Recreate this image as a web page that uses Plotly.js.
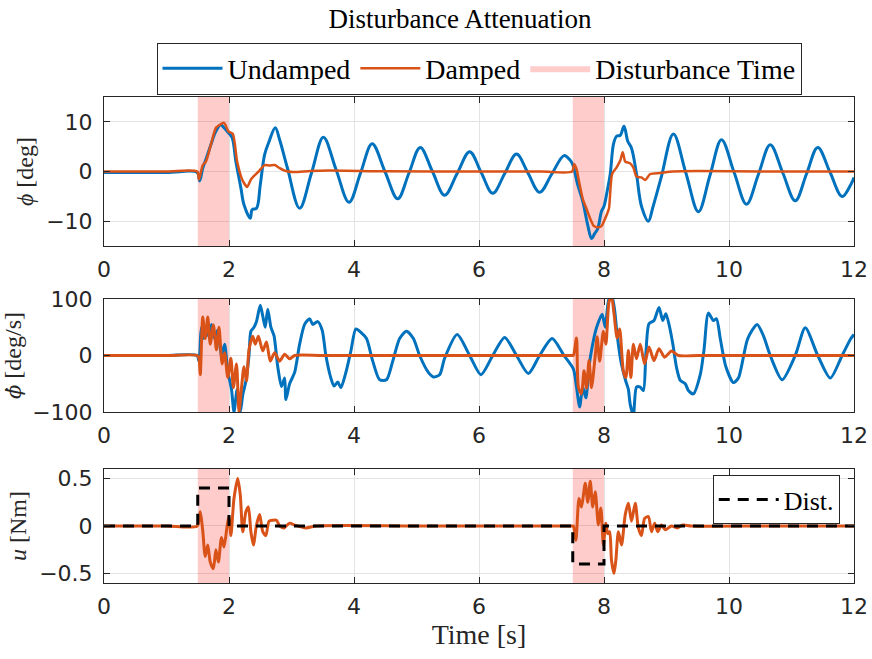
<!DOCTYPE html>
<html>
<head>
<meta charset="utf-8">
<script src="https://cdn.plot.ly/plotly-3.0.1.min.js"></script>
<style>html,body{margin:0;padding:0;background:#fff;}#chart{width:872px;height:659px;}</style>
</head>
<body>
<div id="chart"></div>
<script>
// ---------- data ----------
const xTicks = [0, 2, 4, 6, 8, 10, 12];
const distWindows = [[1.5, 2.0], [7.5, 8.0]];
const phiRange = [-15, 15];
const rateRange = [-100, 100];
const uRange = [-0.6, 0.6];

// roll angle phi [deg], undamped
const phiUndT = [0,1.0,1.49,1.53,1.58,1.63,1.71,1.79,1.87,1.92,1.99,2.05,2.11,2.19,2.24,2.34,2.37,2.44,2.50,2.57,2.64,2.74,2.81,2.935,3.13,3.32,3.51,3.715,3.92,4.105,4.29,4.495,4.70,4.88,5.06,5.255,5.45,5.65,5.85,6.035,6.22,6.41,6.60,6.785,6.97,7.165,7.36,7.45,7.50,7.58,7.66,7.74,7.80,7.85,7.90,7.96,8.00,8.05,8.10,8.15,8.20,8.26,8.32,8.38,8.44,8.52,8.60,8.71,8.78,8.915,9.11,9.31,9.51,9.695,9.88,10.08,10.28,10.47,10.66,10.86,11.06,11.24,11.42,11.615,11.81,11.95,12.0];
const phiUndV = [-0.2,-0.2,-0.2,-1.9,0.7,2.4,5.4,8.1,9.4,8.8,7.8,6.8,2.0,-3.3,-6.7,-9.4,-7.7,-7.4,-2.7,3.4,6.0,8.8,6.4,0.7,-7.4,-0.3,6.9,0.3,-6.2,-0.3,5.6,0.0,-5.5,-0.3,4.85,0.0,-4.8,-0.4,4.0,-0.2,-4.4,-0.45,3.5,-0.35,-4.2,-0.5,3.2,2.4,1.35,-2.7,-6.0,-10.8,-13.5,-12.5,-11.5,-8.0,-7.0,-4.0,-0.5,5.4,7.1,7.3,9.1,6.1,4.7,-0.5,-7.0,-10.0,-7.3,-1.2,7.55,-0.3,-8.1,-0.8,6.4,-0.1,-6.6,-0.6,5.4,-0.25,-5.9,-0.5,4.85,-0.1,-5.05,-2.6,-1.2];

// roll angle phi [deg], damped
const phiDamT = [0,1.0,1.49,1.52,1.58,1.63,1.71,1.79,1.84,1.92,1.99,2.06,2.13,2.21,2.29,2.35,2.40,2.48,2.57,2.65,2.73,2.81,2.91,3.02,3.3,3.6,4.5,6.0,7.0,7.49,7.52,7.56,7.60,7.66,7.72,7.78,7.84,7.90,7.96,8.00,8.05,8.08,8.13,8.20,8.26,8.30,8.34,8.41,8.47,8.52,8.60,8.66,8.74,8.90,9.10,9.5,10.5,12.0];
const phiDamV = [0,0,0,-1.6,1.3,2.0,5.4,8.8,9.3,9.8,8.1,7.6,2.0,-1.6,-3.1,-1.6,-0.9,0.1,1.3,1.2,1.3,0.7,0.1,-0.1,0.1,0.2,0.05,0,0,0,1.5,0.5,-2.0,-5.5,-7.5,-9.5,-11.0,-11.2,-11.0,-10.0,-8.5,-7.4,-0.5,0.8,2.2,3.9,2.0,1.7,0.8,-1.0,-1.2,-1.7,-0.5,-0.3,0,0.1,0,0];

// roll rate [deg/s], undamped
const rateUndT = [0,1.0,1.49,1.52,1.55,1.57,1.60,1.63,1.67,1.72,1.77,1.82,1.88,1.93,1.98,2.00,2.04,2.08,2.13,2.18,2.22,2.27,2.32,2.35,2.40,2.44,2.50,2.54,2.58,2.62,2.67,2.72,2.78,2.84,2.89,2.91,2.97,3.05,3.13,3.21,3.29,3.34,3.42,3.49,3.55,3.63,3.68,3.74,3.79,3.87,3.95,4.03,4.11,4.20,4.30,4.41,4.52,4.62,4.73,4.84,4.95,5.05,5.19,5.27,5.37,5.45,5.65,5.85,6.03,6.22,6.41,6.60,6.79,6.97,7.17,7.36,7.51,7.56,7.61,7.66,7.71,7.76,7.81,7.88,7.97,8.02,8.08,8.13,8.17,8.21,8.27,8.35,8.39,8.42,8.47,8.52,8.58,8.63,8.67,8.72,8.80,8.88,8.94,8.99,9.05,9.10,9.16,9.22,9.30,9.35,9.43,9.54,9.60,9.67,9.75,9.80,9.86,9.95,10.07,10.15,10.30,10.45,10.55,10.66,10.85,11.06,11.22,11.42,11.62,11.81,11.95,12.0];
const rateUndV = [0,0,0,-10,40,52,30,50,35,55,30,45,0,20,-30,-39,-60,-100,-60,-100,-70,-45,0,43,50,60,89,70,50,82,50,35,-20,-55,-40,-78,-50,-30,20,55,65,55,60,45,0,-40,-54,-47,-57,-30,8,47,41,30,-10,-43,-43,-10,30,43,30,0,-30,-38,-34,-5,37,0,-34,0,32,0,-32,0,30,0,-24,-56,-91,-56,-75,-20,15,49,73,50,100,102,80,37,-10,-46,-60,-87,-105,-56,-56,-62,3,56,62,85,62,74,50,21,-21,-44,-50,-62,-68,-34,10,75,62,65,30,-20,-48,-40,30,55,35,0,-43,0,49,0,-40,0,30,37];

// roll rate [deg/s], damped
const rateDamT = [0,1.0,1.49,1.52,1.54,1.58,1.62,1.66,1.70,1.75,1.80,1.84,1.89,1.93,1.98,2.03,2.07,2.12,2.16,2.20,2.24,2.28,2.32,2.38,2.42,2.47,2.54,2.60,2.66,2.73,2.81,2.89,2.97,3.05,3.5,5.0,7.0,7.49,7.51,7.56,7.59,7.64,7.68,7.72,7.76,7.80,7.86,7.89,7.93,7.99,8.03,8.08,8.12,8.16,8.21,8.25,8.31,8.35,8.39,8.43,8.47,8.52,8.58,8.65,8.72,8.80,8.88,8.97,9.08,9.19,9.5,10.5,12.0];
const rateDamV = [0,0,0,-5,-34,68,30,68,20,54,10,50,-15,5,-39,-5,-57,-15,-100,-57,-20,-45,10,34,20,34,8,24,-10,5,-10,2,-6,0,0,0,0,0,0,31,-56,-68,-27,-58,-9,-57,0,33,-10,43,20,95,105,74,31,47,-28,-39,9,-39,20,-6,20,-15,15,-9,12,-3,8,0,0,0,0];

// control torque u [Nm], damped
const uDamT = [0,1.0,1.49,1.54,1.58,1.62,1.66,1.70,1.75,1.79,1.83,1.88,1.92,1.97,2.00,2.03,2.08,2.14,2.18,2.22,2.27,2.31,2.35,2.39,2.44,2.49,2.54,2.59,2.64,2.70,2.76,2.81,2.88,2.97,3.05,3.23,3.4,5.0,7.0,7.49,7.51,7.55,7.60,7.64,7.70,7.74,7.78,7.82,7.86,7.91,7.95,7.99,8.03,8.06,8.09,8.12,8.16,8.19,8.23,8.28,8.34,8.39,8.44,8.50,8.55,8.60,8.65,8.71,8.76,8.81,8.86,8.92,8.98,9.08,9.17,9.26,9.4,10.5,12.0];
const uDamV = [0,0,0,0.15,-0.05,-0.32,-0.2,-0.38,-0.45,-0.25,-0.38,-0.12,-0.22,0,0.1,-0.1,0.29,0.5,0.33,-0.06,0.15,0.2,-0.06,-0.2,0.01,0.12,-0.06,-0.1,0.05,0.06,0.06,0,-0.02,0.03,0.01,-0.02,0,0,0,0,0,-0.15,0.29,0.2,0.45,0.25,0.47,0.2,0.36,0.01,0.19,-0.2,0.03,-0.08,-0.06,-0.36,-0.5,-0.36,-0.06,-0.2,0.12,0.24,0.05,0.24,-0.02,-0.1,0.08,0.1,-0.06,0.03,-0.06,0.01,-0.04,0,-0.02,0.01,0,0,0];

// disturbance torque [Nm]
const distT = [0,1.5,1.5,2.0,2.0,7.5,7.5,8.0,8.0,12];
const distV = [0,0,0.4,0.4,0,0,-0.4,-0.4,0,0];

// ---------- styling ----------
const BLUE = '#0072BD', ORANGE = '#D95319', PINK = 'rgba(255,0,0,0.2)';
const SERIF = 'Liberation Serif, DejaVu Serif, serif';
const SANS = 'DejaVu Sans, sans-serif';
const AX = '#262626';

function xAxis(domainAnchor) {
  return {
    anchor: domainAnchor, range: [0, 12], tickvals: xTicks, ticktext: xTicks.map(String),
    showline: true, linecolor: AX, linewidth: 1, mirror: 'ticks',
    ticks: 'inside', ticklen: 6, tickcolor: AX,
    showgrid: true, gridcolor: '#e3e3e3', gridwidth: 1, zeroline: false,
    tickfont: {family: SANS, size: 22, color: AX}, ticklabelstandoff: 4,
    fixedrange: true
  };
}
function yAxis(anchor, domain, range, ticks, title) {
  return {
    anchor: anchor, domain: domain, range: range, tickvals: ticks,
    showline: true, linecolor: AX, linewidth: 1, mirror: 'ticks',
    ticks: 'inside', ticklen: 6, tickcolor: AX,
    showgrid: true, gridcolor: '#e3e3e3', gridwidth: 1, zeroline: false,
    tickfont: {family: SANS, size: 22, color: AX}, ticklabelstandoff: 6,
    title: {text: title, font: {family: SERIF, size: 24, color: AX}, standoff: 5},
    fixedrange: true
  };
}

// shaded disturbance windows as filled traces (one per panel)
function windowTrace(xa, ya, range, show) {
  const xs = [], ys = [];
  distWindows.forEach(w => {
    xs.push(w[0], w[1], w[1], w[0], w[0], null);
    ys.push(range[0], range[0], range[1], range[1], range[0], null);
  });
  return {x: xs, y: ys, xaxis: xa, yaxis: ya, mode: 'lines', fill: 'toself', fillcolor: PINK,
          line: {width: 0, color: PINK}, name: 'Disturbance Time', showlegend: show,
          legendrank: 3, hoverinfo: 'skip'};
}

const smooth = 0.7;
const traces = [
  windowTrace('x', 'y', phiRange, true),
  windowTrace('x2', 'y2', rateRange, false),
  windowTrace('x3', 'y3', uRange, false),
  {x: phiUndT, y: phiUndV, xaxis: 'x', yaxis: 'y', mode: 'lines', name: 'Undamped', legendrank: 1,
   line: {color: BLUE, width: 3, shape: 'spline', smoothing: 1}},
  {x: phiDamT, y: phiDamV, xaxis: 'x', yaxis: 'y', mode: 'lines', name: 'Damped', legendrank: 2,
   line: {color: ORANGE, width: 2.5, shape: 'spline', smoothing: smooth}},
  {x: rateUndT, y: rateUndV, xaxis: 'x2', yaxis: 'y2', mode: 'lines', showlegend: false,
   line: {color: BLUE, width: 3, shape: 'spline', smoothing: smooth}},
  {x: rateDamT, y: rateDamV, xaxis: 'x2', yaxis: 'y2', mode: 'lines', showlegend: false,
   line: {color: ORANGE, width: 3, shape: 'spline', smoothing: smooth}},
  {x: uDamT, y: uDamV, xaxis: 'x3', yaxis: 'y3', mode: 'lines', showlegend: false,
   line: {color: ORANGE, width: 3, shape: 'spline', smoothing: smooth}},
  {x: distT, y: distV, xaxis: 'x3', yaxis: 'y3', mode: 'lines', name: 'Dist.', legend: 'legend2',
   line: {color: '#000000', width: 3, dash: '11px,8px'}}
];

const layout = {
  width: 872, height: 659,
  margin: {l: 104, r: 18, t: 97, b: 76},
  paper_bgcolor: '#ffffff', plot_bgcolor: '#ffffff',
  showlegend: true,
  title: {text: 'Disturbance Attenuation', font: {family: SERIF, size: 27, color: '#000'},
          xref: 'paper', x: 0.4747, xanchor: 'center', yref: 'container', y: 0.972, yanchor: 'middle'},
  xaxis: xAxis('y'),
  xaxis2: xAxis('y2'),
  xaxis3: Object.assign(xAxis('y3'), {title: {text: 'Time [s]', font: {family: SERIF, size: 28, color: AX}, standoff: 4}}),
  yaxis: yAxis('x', [0.6934, 1], phiRange, [-10, 0, 10], '<i>ϕ</i> [deg]'),
  yaxis2: yAxis('x2', [0.3519, 0.5844], rateRange, [-100, 0, 100],
                '<span style="font-family:DejaVu Serif;font-size:21px"><i>ϕ̇</i></span> [deg/s]'),
  yaxis3: yAxis('x3', [0, 0.2346], uRange, [-0.5, 0, 0.5], '<i>u</i> [Nm]'),
  legend: {orientation: 'h', x: 0.5, xanchor: 'center', y: 1.112, yanchor: 'top',
           bgcolor: '#ffffff', bordercolor: AX, borderwidth: 1, itemwidth: 60,
           font: {family: SERIF, size: 28, color: '#000'}, traceorder: 'normal'},
  legend2: {x: 0.981, xanchor: 'right', y: 0.222, yanchor: 'top',
            bgcolor: '#ffffff', bordercolor: AX, borderwidth: 1, itemwidth: 60,
            font: {family: SERIF, size: 26, color: '#000'}}
};

Plotly.newPlot('chart', traces, layout, {staticPlot: true, displayModeBar: false});
</script>
</body>
</html>
